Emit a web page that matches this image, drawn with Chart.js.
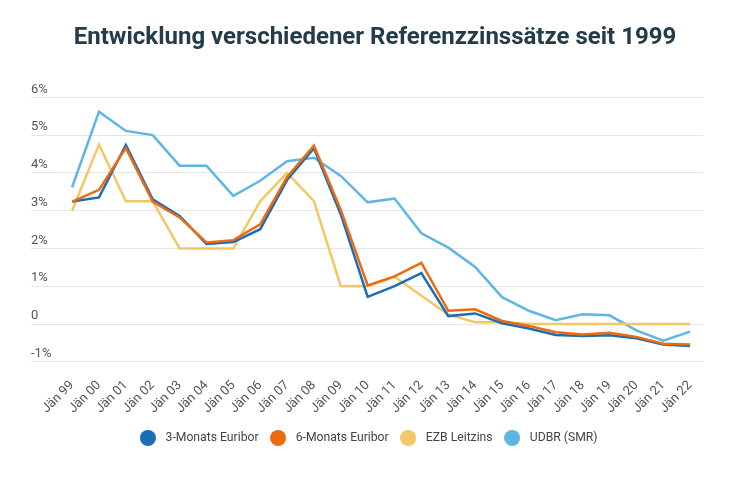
<!DOCTYPE html>
<html>
<head>
<meta charset="utf-8">
<script src="https://cdn.jsdelivr.net/npm/chart.js@4/dist/chart.umd.min.js"></script>
<style>
html,body{margin:0;padding:0;background:#fff;}
#wrap{width:750px;height:500px;}
</style>
</head>
<body>
<div id="wrap"><canvas id="c" width="750" height="500"></canvas></div>
<script>
const categories = ["Jän 99","Jän 00","Jän 01","Jän 02","Jän 03","Jän 04","Jän 05","Jän 06","Jän 07","Jän 08","Jän 09","Jän 10","Jän 11","Jän 12","Jän 13","Jän 14","Jän 15","Jän 16","Jän 17","Jän 18","Jän 19","Jän 20","Jän 21","Jän 22"];
const euribor3M = [3.24,3.35,4.74,3.30,2.86,2.12,2.17,2.51,3.81,4.65,2.90,0.72,1.00,1.35,0.21,0.28,0.02,-0.12,-0.29,-0.32,-0.30,-0.38,-0.54,-0.58];
const euribor6M = [3.24,3.55,4.66,3.24,2.82,2.16,2.22,2.64,3.89,4.72,3.02,1.02,1.26,1.62,0.35,0.39,0.08,-0.05,-0.22,-0.28,-0.23,-0.34,-0.52,-0.54];
const ezbLeitzins = [3.00,4.75,3.25,3.25,2.00,2.00,2.00,3.25,4.00,3.25,1.00,1.00,1.25,0.75,0.25,0.05,0.05,0,0,0,0,0,0,0];
const udbr = [3.62,5.62,5.11,5.00,4.19,4.19,3.39,3.79,4.31,4.40,3.92,3.22,3.32,2.40,2.02,1.51,0.71,0.35,0.10,0.26,0.23,-0.17,-0.44,-0.20];
const yTicks = [-1,0,1,2,3,4,5,6];
const seriesNames = ['3-Monats Euribor','6-Monats Euribor','EZB Leitzins','UDBR (SMR)'];
const seriesColors = ['#1b6db5','#ee6a0e','#f1c865','#5db6e6'];

const toPts = arr => arr.map((v,i)=>({x:i,y:v}));
const FONT = "Roboto, 'Noto Sans', sans-serif";

function makeDot(color){
  const cv = document.createElement('canvas');
  cv.width = 16; cv.height = 16;
  const ctx = cv.getContext('2d');
  ctx.fillStyle = color;
  ctx.beginPath(); ctx.arc(8,8,8,0,Math.PI*2); ctx.fill();
  return cv;
}
const dots = seriesColors.map(makeDot);

new Chart(document.getElementById('c'), {
  type: 'line',
  data: {
    datasets: [
      {label:seriesNames[0], data: toPts(euribor3M), borderColor:seriesColors[0], backgroundColor:seriesColors[0], order:2},
      {label:seriesNames[1], data: toPts(euribor6M), borderColor:seriesColors[1], backgroundColor:seriesColors[1], order:1},
      {label:seriesNames[2], data: toPts(ezbLeitzins), borderColor:seriesColors[2], backgroundColor:seriesColors[2], order:3},
      {label:seriesNames[3], data: toPts(udbr), borderColor:seriesColors[3], backgroundColor:seriesColors[3], order:4}
    ]
  },
  options: {
    responsive: false,
    animation: false,
    devicePixelRatio: 1,
    elements: {
      line: {borderWidth: 2.5, tension: 0, fill: false},
      point: {radius: 0, hoverRadius: 0}
    },
    layout: {padding: {left: 31, right: 31, top: 14, bottom: 46}},
    plugins: {
      title: {
        display: true,
        text: 'Entwicklung verschiedener Referenzzinssätze seit 1999',
        color: '#243b4a',
        font: {family: FONT, size: 24, weight: 'bold'},
        padding: {top: 10, bottom: 44.5}
      },
      legend: {
        position: 'bottom',
        fullSize: false,
        labels: {
          usePointStyle: true,
          pointStyleWidth: 23,
          boxHeight: 12,
          padding: 8,
          color: '#444',
          font: {family: FONT, size: 12.2},
          sort: (a,b) => a.datasetIndex - b.datasetIndex,
          generateLabels: chart => Chart.defaults.plugins.legend.labels.generateLabels(chart)
            .map(l => Object.assign(l, {pointStyle: dots[l.datasetIndex]}))
        }
      },
      tooltip: {enabled: false}
    },
    scales: {
      x: {
        type: 'linear',
        min: -1.53,
        max: 23.48,
        grid: {display: false},
        border: {display: false},
        afterBuildTicks: s => { s.ticks = categories.map((c,i)=>({value:i})); },
        afterFit: s => { s.height = 62; },
        ticks: {
          autoSkip: false,
          minRotation: 45,
          maxRotation: 45,
          color: '#555',
          padding: 8,
          font: {family: FONT, size: 13},
          callback: v => categories[v]
        }
      },
      y: {
        min: -1,
        max: 6,
        afterBuildTicks: s => { s.ticks = yTicks.map(v=>({value:v})); },
        grid: {color: '#e6e6e6', lineWidth: 1, drawTicks: false},
        border: {display: false},
        ticks: {
          mirror: true,
          padding: 0,
          labelOffset: -8,
          color: '#555',
          font: {family: FONT, size: 13},
          callback: v => v === 0 ? '0' : v + '%'
        }
      },
      yRight: {
        position: 'right',
        display: true,
        grid: {display: false, drawTicks: false},
        border: {display: false},
        ticks: {display: false},
        afterFit: s => { s.width = 16; }
      }
    }
  }
});
</script>
</body>
</html>
